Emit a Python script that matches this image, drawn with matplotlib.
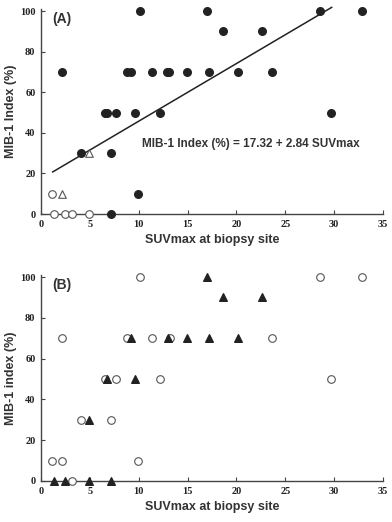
import matplotlib
matplotlib.use('Agg')
import matplotlib.pyplot as plt

# panel A: filled circles, open circles, open triangles
a_fill_x = [2.1, 10.1, 17.0, 28.6, 32.9, 18.6, 22.6, 8.8, 9.2, 11.4, 12.9, 13.1, 14.9,
            17.2, 20.2, 23.6, 6.5, 6.75, 7.7, 9.6, 12.2, 29.7, 4.1, 7.2, 9.9, 7.2]
a_fill_y = [70, 100, 100, 100, 100, 90, 90, 70, 70, 70, 70, 70, 70,
            70, 70, 70, 50, 50, 50, 50, 50, 50, 30, 30, 10, 0]
a_open_x = [1.1, 1.3, 2.5, 3.2, 4.9]
a_open_y = [10, 0, 0, 0, 0]
a_tri_x = [4.9, 2.1]
a_tri_y = [30, 10]

# regression line
fit_a, fit_b = 17.32, 2.84
fit_x = [1.2, 29.75]

# panel B: open circles, filled triangles
b_open_x = [2.1, 10.1, 28.6, 32.9, 8.8, 11.4, 13.2, 23.6, 6.5, 7.7, 12.2, 29.7,
            4.1, 7.2, 1.1, 2.1, 9.9, 3.2]
b_open_y = [70, 100, 100, 100, 70, 70, 70, 70, 50, 50, 50, 50,
            30, 30, 10, 10, 10, 0]
b_tri_x = [17.0, 18.6, 22.6, 9.2, 12.95, 14.9, 17.2, 20.2, 6.8, 9.6, 4.9, 1.3, 2.5, 4.9, 7.2]
b_tri_y = [100, 90, 90, 70, 70, 70, 70, 70, 50, 50, 30, 0, 0, 0, 0]

xticks = [0, 5, 10, 15, 20, 25, 30, 35]
yticks = [0, 20, 40, 60, 80, 100]

ax_col = '#444444'
sans = 'Liberation Sans'
serif = 'Liberation Serif'

fig = plt.figure(figsize=(3.92, 5.22), dpi=100)
ax1 = fig.add_axes([41/392, 1 - 214/522, 342/392, 205/522])
ax2 = fig.add_axes([41/392, 1 - 481/522, 342/392, 206/522])


def style(ax, label, ylab):
    ax.set_xlim(0, 35)
    ax.set_ylim(0, 101)
    ax.set_xticks(xticks)
    ax.set_yticks(yticks)
    ax.spines['top'].set_visible(False)
    ax.spines['right'].set_visible(False)
    for s in ['left', 'bottom']:
        ax.spines[s].set_color(ax_col)
        ax.spines[s].set_linewidth(1.0)
    ax.tick_params(direction='in', length=3, width=0.8, color=ax_col, pad=4)
    for t in ax.get_xticklabels() + ax.get_yticklabels():
        t.set_fontfamily(serif)
        t.set_fontweight('bold')
        t.set_fontsize(7.5)
        t.set_color('#222222')
    ax.set_xlabel('SUVmax at biopsy site', fontfamily=sans, fontweight='bold',
                  fontsize=9, color='#333333', labelpad=4)
    ax.set_ylabel(ylab, fontfamily=sans, fontweight='bold', fontsize=9,
                  color='#333333', labelpad=2)
    ax.text(1.2, 96, label, fontfamily=sans, fontweight='bold', fontsize=10,
            color='#333333', va='center')


ms = 30
ax1.scatter(a_fill_x, a_fill_y, s=ms, color='#222222', marker='o', clip_on=False, zorder=3)
ax1.scatter(a_open_x, a_open_y, s=ms, facecolor='white', edgecolor='#555555',
            linewidth=0.8, marker='o', clip_on=False, zorder=3)
ax1.scatter(a_tri_x, a_tri_y, s=ms, facecolor='white', edgecolor='#555555',
            linewidth=0.8, marker='^', clip_on=False, zorder=3)
ax1.plot(fit_x, [fit_a + fit_b * x for x in fit_x], color='#222222', lw=1.1,
         clip_on=False, zorder=2)
ax1.text(10.3, 34.3, 'MIB-1 Index (%) = 17.32 + 2.84 SUVmax', fontfamily=sans,
         fontweight='bold', fontsize=8.5, color='#333333', va='center')
style(ax1, '(A)', 'MIB-1 Index (%)')

ax2.scatter(b_open_x, b_open_y, s=ms, facecolor='white', edgecolor='#555555',
            linewidth=0.8, marker='o', clip_on=False, zorder=3)
ax2.scatter(b_tri_x, b_tri_y, s=ms, color='#222222', marker='^', clip_on=False, zorder=4)
style(ax2, '(B)', 'MIB-1 index (%)')

fig.savefig('out.png', dpi=100, facecolor='white')
